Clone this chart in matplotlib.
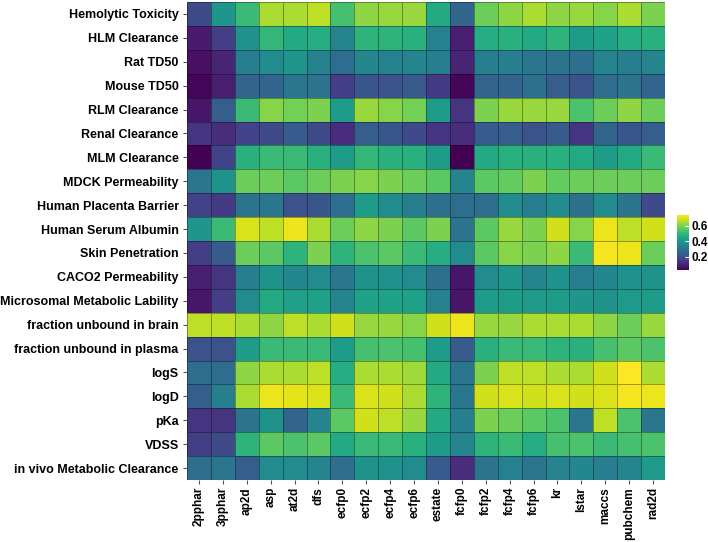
import numpy as np
import matplotlib
matplotlib.use("Agg")
import matplotlib.pyplot as plt

plt.rcParams['font.family'] = ['Liberation Sans', 'DejaVu Sans']

# endpoints (rows, top to bottom) and fingerprints (columns)
endpoints = ["Hemolytic Toxicity", "HLM Clearance", "Rat TD50", "Mouse TD50",
             "RLM Clearance", "Renal Clearance", "MLM Clearance", "MDCK Permeability",
             "Human Placenta Barrier", "Human Serum Albumin", "Skin Penetration",
             "CACO2 Permeability", "Microsomal Metabolic Lability",
             "fraction unbound in brain", "fraction unbound in plasma",
             "logS", "logD", "pKa", "VDSS", "in vivo Metabolic Clearance"]
fingerprints = ["2pphar", "3pphar", "ap2d", "asp", "at2d", "dfs", "ecfp0", "ecfp2",
                "ecfp4", "ecfp6", "estate", "fcfp0", "fcfp2", "fcfp4", "fcfp6",
                "kr", "lstar", "maccs", "pubchem", "rad2d"]

scores = [
    [0.19, 0.40, 0.51, 0.65, 0.65, 0.67, 0.53, 0.62, 0.63, 0.63, 0.46, 0.26, 0.58, 0.62, 0.65, 0.62, 0.63, 0.61, 0.65, 0.60],
    [0.08, 0.16, 0.39, 0.50, 0.46, 0.47, 0.35, 0.49, 0.49, 0.48, 0.34, 0.09, 0.47, 0.48, 0.46, 0.49, 0.42, 0.44, 0.47, 0.48],
    [0.06, 0.10, 0.33, 0.37, 0.40, 0.34, 0.28, 0.36, 0.34, 0.35, 0.33, 0.10, 0.33, 0.33, 0.31, 0.30, 0.29, 0.35, 0.33, 0.35],
    [0.04, 0.09, 0.26, 0.26, 0.31, 0.30, 0.16, 0.22, 0.21, 0.23, 0.15, 0.04, 0.26, 0.26, 0.29, 0.24, 0.21, 0.28, 0.30, 0.26],
    [0.07, 0.24, 0.51, 0.61, 0.59, 0.60, 0.42, 0.63, 0.61, 0.59, 0.42, 0.14, 0.60, 0.63, 0.63, 0.63, 0.54, 0.58, 0.62, 0.58],
    [0.14, 0.12, 0.17, 0.19, 0.23, 0.19, 0.12, 0.24, 0.22, 0.19, 0.14, 0.12, 0.23, 0.24, 0.21, 0.23, 0.14, 0.26, 0.22, 0.24],
    [0.03, 0.17, 0.48, 0.51, 0.51, 0.48, 0.42, 0.50, 0.48, 0.48, 0.42, 0.03, 0.46, 0.48, 0.48, 0.48, 0.46, 0.42, 0.46, 0.51],
    [0.31, 0.39, 0.58, 0.58, 0.56, 0.58, 0.60, 0.61, 0.60, 0.58, 0.56, 0.35, 0.56, 0.57, 0.60, 0.57, 0.58, 0.58, 0.58, 0.58],
    [0.17, 0.15, 0.30, 0.31, 0.21, 0.22, 0.28, 0.42, 0.37, 0.33, 0.29, 0.28, 0.28, 0.37, 0.33, 0.37, 0.29, 0.37, 0.30, 0.19],
    [0.40, 0.51, 0.70, 0.67, 0.72, 0.65, 0.58, 0.62, 0.60, 0.56, 0.60, 0.30, 0.56, 0.63, 0.60, 0.69, 0.61, 0.72, 0.67, 0.69],
    [0.16, 0.23, 0.58, 0.56, 0.49, 0.60, 0.49, 0.54, 0.56, 0.51, 0.47, 0.37, 0.56, 0.61, 0.60, 0.62, 0.51, 0.73, 0.72, 0.58],
    [0.09, 0.14, 0.33, 0.39, 0.36, 0.37, 0.31, 0.39, 0.39, 0.37, 0.29, 0.07, 0.37, 0.40, 0.35, 0.39, 0.33, 0.36, 0.39, 0.39],
    [0.07, 0.16, 0.37, 0.46, 0.43, 0.43, 0.35, 0.44, 0.44, 0.43, 0.34, 0.07, 0.42, 0.42, 0.41, 0.42, 0.40, 0.39, 0.41, 0.42],
    [0.67, 0.67, 0.65, 0.62, 0.67, 0.65, 0.69, 0.63, 0.63, 0.61, 0.69, 0.72, 0.63, 0.63, 0.65, 0.65, 0.65, 0.62, 0.58, 0.63],
    [0.21, 0.21, 0.42, 0.51, 0.51, 0.51, 0.42, 0.53, 0.54, 0.53, 0.42, 0.23, 0.48, 0.51, 0.51, 0.49, 0.48, 0.53, 0.56, 0.54],
    [0.28, 0.28, 0.62, 0.65, 0.65, 0.67, 0.47, 0.65, 0.65, 0.64, 0.46, 0.31, 0.60, 0.67, 0.67, 0.65, 0.65, 0.69, 0.74, 0.65],
    [0.24, 0.33, 0.65, 0.72, 0.71, 0.70, 0.51, 0.70, 0.69, 0.65, 0.49, 0.31, 0.69, 0.70, 0.69, 0.70, 0.69, 0.70, 0.73, 0.72],
    [0.14, 0.14, 0.30, 0.39, 0.26, 0.35, 0.56, 0.69, 0.67, 0.63, 0.46, 0.33, 0.60, 0.58, 0.56, 0.54, 0.31, 0.67, 0.54, 0.31],
    [0.16, 0.19, 0.49, 0.56, 0.54, 0.56, 0.46, 0.51, 0.51, 0.48, 0.42, 0.35, 0.49, 0.51, 0.47, 0.53, 0.54, 0.51, 0.53, 0.54],
    [0.28, 0.31, 0.24, 0.37, 0.37, 0.35, 0.28, 0.39, 0.39, 0.37, 0.23, 0.12, 0.30, 0.34, 0.31, 0.35, 0.36, 0.33, 0.35, 0.42],
]

data = np.array(scores)

fig = plt.figure(figsize=(7.08, 5.42), dpi=100)
ax = fig.add_axes([187/708, 1 - 480/542, 478/708, 478/542])

mesh = ax.pcolormesh(data, cmap='viridis', vmin=0.03, vmax=0.74,
                     edgecolors=(0, 0, 0, 0.35), linewidth=0.6)
ax.set_xlim(0, len(fingerprints))
ax.set_ylim(len(endpoints), 0)

ax.set_xticks(np.arange(len(fingerprints)) + 0.5)
ax.set_xticklabels(fingerprints, rotation=90, fontsize=8.5, fontweight='bold')
ax.set_yticks(np.arange(len(endpoints)) + 0.5)
ax.set_yticklabels(endpoints, fontsize=9, fontweight='bold')
ax.tick_params(axis='y', length=3, color='#555555', pad=3)
ax.tick_params(axis='x', length=3, color='#555555', pad=2)
for s in ax.spines.values():
    s.set_visible(False)

# colorbar, ggplot-like
cax = fig.add_axes([677/708, 1 - 270/542, 12/708, 55/542])
cb = fig.colorbar(mesh, cax=cax, ticks=[0.2, 0.4, 0.6])
cb.outline.set_visible(False)
cb.ax.tick_params(length=3, color='white', direction='in', labelsize=8.5, pad=2)
for lab in cb.ax.get_yticklabels():
    lab.set_fontweight('bold')

fig.savefig("out.png", dpi=100)
